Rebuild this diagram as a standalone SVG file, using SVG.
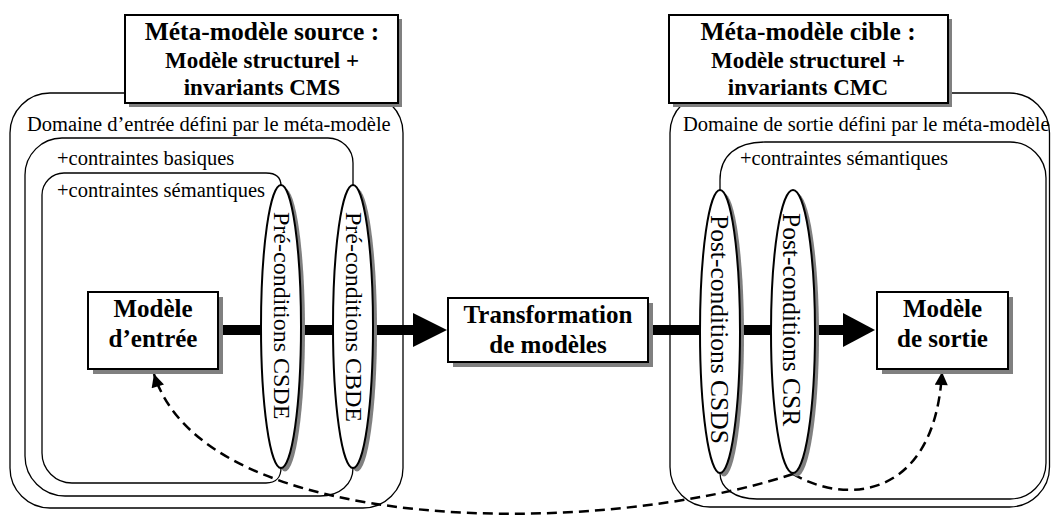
<svg xmlns="http://www.w3.org/2000/svg" width="1051" height="516" viewBox="0 0 1051 516">
<defs>
<style>
.dom{fill:none;stroke:#000;stroke-width:1.3}
.box{fill:#fff;stroke:#000;stroke-width:2}
.sh{fill:#808080;stroke:none}
.ell{fill:#fff;stroke:#000;stroke-width:2}
.t{font-family:"Liberation Serif","Times New Roman",serif;fill:#000}
.b{font-weight:bold;text-anchor:middle}
.bar{stroke:#000;stroke-width:10;fill:none}
.dash{fill:none;stroke:#000;stroke-width:2.5;stroke-dasharray:10 6}
</style>
<marker id="ah" viewBox="0 0 10 10" refX="10" refY="5" markerWidth="14" markerHeight="13" markerUnits="userSpaceOnUse" orient="auto">
<path d="M0,0 L10,5 L0,10 z" fill="#000"/>
</marker>
</defs>
<rect width="1051" height="516" fill="#fff"/>

<g id="domaine-entree">
<rect class="dom" x="10" y="93" width="393" height="415" rx="40"/>
<text class="t" x="27" y="131" font-size="20.5">Domaine d’entrée défini par le méta-modèle</text>
</g>
<g id="contraintes-basiques">
<path class="dom" d="M353 186 V163 A25 25 0 0 0 328 138 H62 A37 37 0 0 0 25 175 V456 A40 40 0 0 0 65 496 H320 C340 496 353 484 353 468"/>
<text class="t" x="57" y="165" font-size="20.5">+contraintes basiques</text>
</g>
<g id="contraintes-semantiques-entree">
<path class="dom" d="M281 186 C281 178 276 173 266 173 H64 A22 22 0 0 0 42 195 V453 A30 30 0 0 0 72 483 H266 C276 483 281 477 281 468"/>
<text class="t" x="57" y="197" font-size="20.5">+contraintes sémantiques</text>
</g>

<g id="domaine-sortie">
<rect class="dom" x="670" y="93" width="379.5" height="414" rx="40"/>
<text class="t" x="683" y="131" font-size="20.5">Domaine de sortie défini par le méta-modèle</text>
</g>
<g id="contraintes-semantiques-sortie">
<path class="dom" d="M720 190 V180 C720 156 736 142 765 142 H1010 A36 36 0 0 1 1046 178 V463 A36 36 0 0 1 1010 499 H757 C735 499 720 488 720 473"/>
<text class="t" x="740" y="165" font-size="20.5">+contraintes sémantiques</text>
</g>

<g id="connecteurs">
<line class="bar" x1="218" y1="330" x2="415" y2="330"/>
<polygon points="413,313 447,330 413,347" fill="#000"/>
<line class="bar" x1="648" y1="330" x2="845" y2="330"/>
<polygon points="843,313 875,330 843,347" fill="#000"/>
<path class="dash" d="M793 474 C600 538 205 538 154 374" marker-end="url(#ah)"/>
<path class="dash" d="M793 474 C845 505 935 500 942 372" marker-end="url(#ah)"/>
</g>

<g id="meta-source">
<rect class="sh" x="129" y="19" width="273" height="88"/>
<rect class="box" x="125" y="15" width="273" height="88"/>
<text class="t b" x="262" y="40" font-size="25.5">Méta-modèle source :</text>
<text class="t b" x="262" y="68" font-size="23">Modèle structurel +</text>
<text class="t b" x="262" y="95" font-size="23">invariants CMS</text>
</g>
<g id="meta-cible">
<rect class="sh" x="673" y="19" width="279" height="88"/>
<rect class="box" x="669" y="15" width="279" height="88"/>
<text class="t b" x="808" y="40" font-size="25.5">Méta-modèle cible :</text>
<text class="t b" x="808" y="68" font-size="23">Modèle structurel +</text>
<text class="t b" x="808" y="95" font-size="23">invariants CMC</text>
</g>

<g id="pre-csde">
<ellipse class="sh" cx="285" cy="330" rx="20" ry="141.5"/>
<ellipse class="ell" cx="281" cy="326.5" rx="20" ry="141.5"/>
<text class="t" transform="translate(274,212) rotate(90)" font-size="24">Pré-conditions CSDE</text>
</g>
<g id="pre-cbde">
<ellipse class="sh" cx="357" cy="330" rx="20" ry="141.5"/>
<ellipse class="ell" cx="353" cy="326.5" rx="20" ry="141.5"/>
<text class="t" transform="translate(346,212) rotate(90)" font-size="24">Pré-conditions CBDE</text>
</g>
<g id="post-csds">
<ellipse class="sh" cx="724" cy="335" rx="20" ry="141.5"/>
<ellipse class="ell" cx="720" cy="331.5" rx="20" ry="141.5"/>
<text class="t" transform="translate(711,215) rotate(90)" font-size="25.5">Post-conditions CSDS</text>
</g>
<g id="post-csr">
<ellipse class="sh" cx="797" cy="335" rx="22" ry="141.5"/>
<ellipse class="ell" cx="793" cy="331.5" rx="22" ry="141.5"/>
<text class="t" transform="translate(783,213) rotate(90)" font-size="25.5">Post-conditions CSR</text>
</g>

<g id="modele-entree">
<rect class="sh" x="93" y="297" width="130" height="77"/>
<rect class="box" x="88" y="292" width="130" height="77"/>
<text class="t b" x="153" y="317" font-size="25">Modèle</text>
<text class="t b" x="153" y="347" font-size="25">d’entrée</text>
</g>
<g id="transformation">
<rect class="sh" x="453" y="303" width="200" height="64"/>
<rect class="box" x="448" y="298" width="200" height="64"/>
<text class="t b" x="548" y="323" font-size="25">Transformation</text>
<text class="t b" x="548" y="353" font-size="25">de modèles</text>
</g>
<g id="modele-sortie">
<rect class="sh" x="882" y="297" width="131" height="77"/>
<rect class="box" x="877" y="292" width="131" height="77"/>
<text class="t b" x="942.5" y="317" font-size="25">Modèle</text>
<text class="t b" x="942.5" y="347" font-size="25">de sortie</text>
</g>
</svg>
